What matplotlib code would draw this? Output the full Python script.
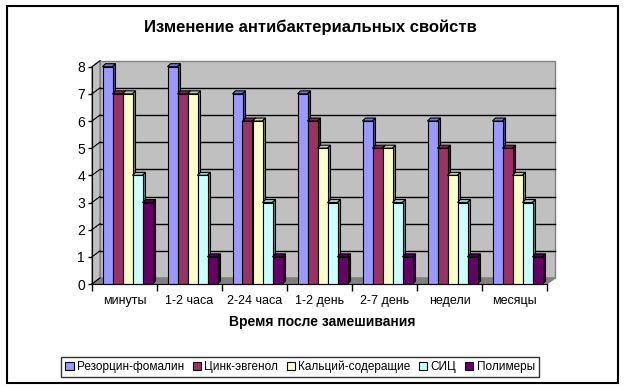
import numpy as np
import matplotlib
matplotlib.use("Agg")
import matplotlib.pyplot as plt
from matplotlib.patches import Polygon, Rectangle, Patch

plt.rcParams['font.family'] = ['Liberation Sans', 'DejaVu Sans']

categories = ['минуты', '1-2 часа', '2-24 часа', '1-2 день', '2-7 день', 'недели', 'месяцы']
series = ['Резорцин-фомалин', 'Цинк-эвгенол', 'Кальций-содеращие', 'СИЦ', 'Полимеры']
values = [
    [8, 8, 7, 7, 6, 6, 6],
    [7, 7, 6, 6, 5, 5, 5],
    [7, 7, 6, 5, 5, 4, 4],
    [4, 4, 3, 3, 3, 3, 3],
    [3, 1, 1, 1, 1, 1, 1],
]
colors = ['#9999FF', '#993366', '#FFFFCC', '#CCFFFF', '#660066']
y_ticks = [0, 1, 2, 3, 4, 5, 6, 7, 8]


def shade(c, f):
    r, g, b = matplotlib.colors.to_rgb(c)
    return (r * f, g * f, b * f)


W, H = 624, 388
fig = plt.figure(figsize=(W / 100, H / 100), dpi=100)

# front plane of the chart in pixels
x_left, x_right = 92, 547
y_zero, y_top = 284, 66.7
ax = fig.add_axes([x_left / W, (H - y_zero) / H, (x_right - x_left) / W, (y_zero - y_top) / H])
n = len(categories)
ax.set_xlim(0, n)
ax.set_ylim(0, 8)
ax.set_facecolor('none')

ux = n / (x_right - x_left)
uy = 8 / (y_zero - y_top)
dx, dy = 8 * ux, 6 * uy          # wall depth
bdx, bdy = 3 * ux, 3 * uy        # bar depth

# walls and floor
ax.add_patch(Polygon([(dx, dy), (n + dx, dy), (n + dx, 8 + dy), (dx, 8 + dy)],
                     closed=True, facecolor='#C0C0C0', edgecolor='#808080', lw=1, clip_on=False, zorder=0))
ax.add_patch(Polygon([(0, 0), (dx, dy), (dx, 8 + dy), (0, 8)],
                     closed=True, facecolor='#C0C0C0', edgecolor='#808080', lw=1, clip_on=False, zorder=0))
ax.add_patch(Polygon([(0, 0), (n, 0), (n + dx, dy), (dx, dy)],
                     closed=True, facecolor='#808080', edgecolor='#808080', lw=1, clip_on=False, zorder=0))
for k in y_ticks[1:-1]:
    ax.plot([dx, n + dx], [k + dy, k + dy], color='black', lw=1, zorder=1, clip_on=False)
for k in y_ticks:
    ax.plot([0, dx], [k, k + dy], color='black', lw=0.8, zorder=1, clip_on=False)

# bars
bw = 10 * ux
start = 10.5 * ux
for i in range(n):
    for j in range(len(series)):
        v = values[j][i]
        x0 = i + start + j * bw
        c = colors[j]
        ax.add_patch(Polygon([(x0, v), (x0 + bdx, v + bdy), (x0 + bw + bdx, v + bdy), (x0 + bw, v)],
                             closed=True, facecolor=shade(c, 0.8), edgecolor='black', lw=0.8, zorder=2, clip_on=False))
        ax.add_patch(Polygon([(x0 + bw, 0), (x0 + bw + bdx, bdy), (x0 + bw + bdx, v + bdy), (x0 + bw, v)],
                             closed=True, facecolor=shade(c, 0.5), edgecolor='black', lw=0.8, zorder=2, clip_on=False))
        ax.add_patch(Rectangle((x0, 0), bw, v, facecolor=c, edgecolor='black', lw=0.8, zorder=2, clip_on=False))

for s in ['top', 'right']:
    ax.spines[s].set_visible(False)
ax.spines['left'].set_zorder(3)
ax.spines['bottom'].set_zorder(3)

ax.set_yticks(y_ticks)
ax.tick_params(axis='y', length=3, width=1, labelsize=10, pad=2)
ax.set_xticks(np.arange(n + 1))
ax.set_xticklabels([])
ax.tick_params(axis='x', which='major', length=5, width=1, direction='out')
ax.set_xticks(np.arange(n) + 0.5, minor=True)
ax.set_xticklabels(categories, minor=True)
ax.tick_params(axis='x', which='minor', length=0, labelsize=9, pad=8)

fig.text(310 / W, 1 - 27 / H, 'Изменение антибактериальных свойств', ha='center', va='center',
         fontsize=12, fontweight='bold')
fig.text(322 / W, 1 - 322 / H, 'Время после замешивания', ha='center', va='center',
         fontsize=10, fontweight='bold')

handles = [Patch(facecolor=c, edgecolor='black', lw=0.8) for c in colors]
leg = fig.legend(handles, series, loc='center', bbox_to_anchor=(300 / W, 1 - 367 / H), ncol=5,
                 fontsize=8.5, frameon=True, fancybox=False, edgecolor='black', handlelength=0.7,
                 handleheight=0.7, handletextpad=0.3, columnspacing=0.7, borderpad=0.35, borderaxespad=0)
leg.get_frame().set_linewidth(1)

fig.add_artist(Rectangle((7 / W, 5 / H), 611 / W, 377 / H, transform=fig.transFigure,
                         fill=False, edgecolor='black', lw=1.5))

fig.savefig('out.png', dpi=100)
